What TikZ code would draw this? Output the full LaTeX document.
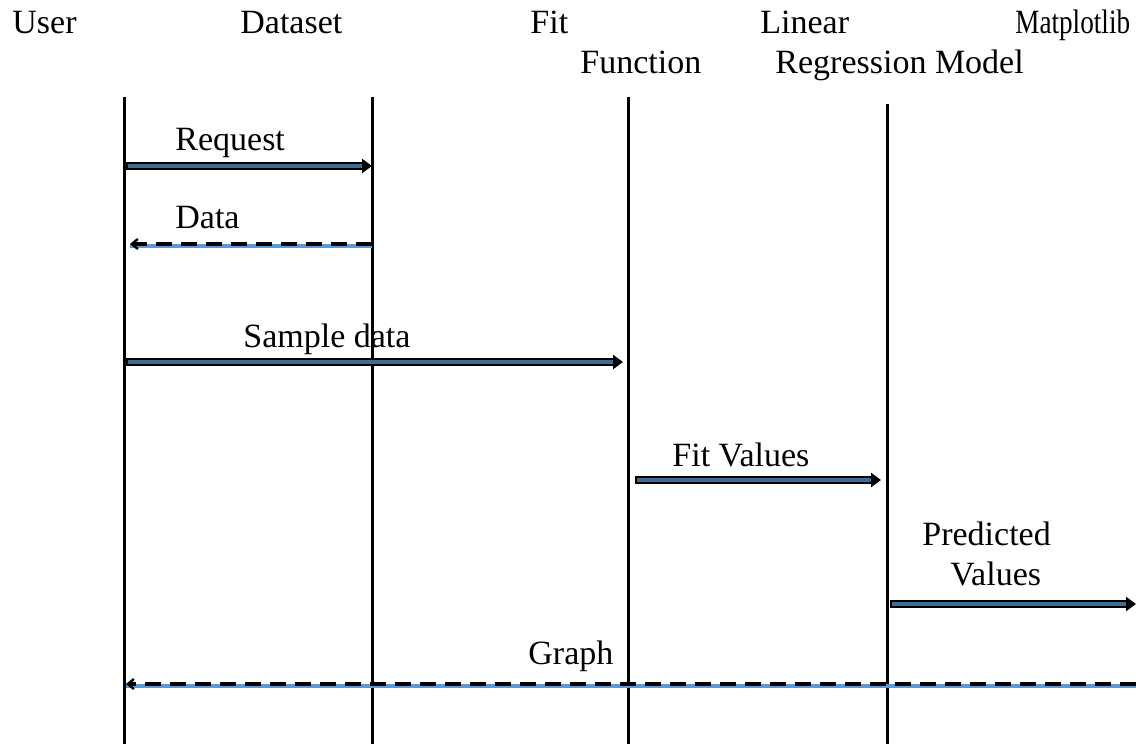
\documentclass[tikz,border=0pt]{standalone}
\usepackage{fontspec}
\setmainfont{Liberation Serif}
\usetikzlibrary{arrows.meta}
\definecolor{msgblue}{HTML}{3E6C97}
\definecolor{retblue}{HTML}{5B9BD5}
\begin{document}
\begin{tikzpicture}[x=0.5pt,y=-0.5pt,
  txt/.style={anchor=base west, inner sep=0pt, font=\fontsize{17}{20}\selectfont},
  lifeline/.style={line width=1.5pt, black},
  callout/.style={line width=3.6pt, black, -{Triangle[length=5pt,width=7pt]}},
  callin/.style={line width=1.7pt, msgblue, shorten >=5pt, shorten <=0.8pt},
  retout/.style={line width=2.1pt, black, dash pattern=on 8pt off 4.5pt,
    -{Straight Barb[length=3pt,width=5pt,line width=1.2pt]}},
  retin/.style={line width=1.7pt, retblue, transform canvas={yshift=-1pt}}
]
\useasboundingbox (0,0) rectangle (1136,744);

% participants
\node[txt] (user) at (12,33) {User};
\node[txt] (dataset) at (240,33) {Dataset};
\node[txt] (fit) at (530,33) {Fit};
\node[txt] (fitfn) at (580,73) {Function};
\node[txt] (linear) at (760,33) {Linear};
\node[txt] (lrm) at (775,73) {Regression Model};
\node[txt, xscale=0.8] (mpl) at (1015,33) {Matplotlib};

% lifelines
\coordinate (uT) at (124,97);  \coordinate (uB) at (124,744);
\coordinate (dT) at (372,97);  \coordinate (dB) at (372,744);
\coordinate (fT) at (628,97);  \coordinate (fB) at (628,744);
\coordinate (lT) at (887,104); \coordinate (lB) at (887,744);
\draw[lifeline] (uT) -- (uB);
\draw[lifeline] (dT) -- (dB);
\draw[lifeline] (fT) -- (fB);
\draw[lifeline] (lT) -- (lB);

% message end points
\coordinate (reqA) at (126,166); \coordinate (reqB) at (372,166);
\coordinate (datA) at (372,244); \coordinate (datB) at (130,244);
\coordinate (smpA) at (126,362); \coordinate (smpB) at (623,362);
\coordinate (fitA) at (635,480); \coordinate (fitB) at (881,480);
\coordinate (preA) at (890,604); \coordinate (preB) at (1136,604);
\coordinate (grA)  at (1136,684); \coordinate (grB) at (126,684);

% messages
\draw[callout] (reqA) -- (reqB);
\draw[callin] (reqA) -- (reqB);
\node[txt] (reqL) at (175,150) {Request};

\draw[retin] (datA) -- (datB);
\draw[retout] (datA) -- (datB);
\node[txt] (datL) at (175,228) {Data};

\draw[callout] (smpA) -- (smpB);
\draw[callin] (smpA) -- (smpB);
\node[txt] (smpL) at (243,347) {Sample data};

\draw[callout] (fitA) -- (fitB);
\draw[callin] (fitA) -- (fitB);
\node[txt] (fitL) at (672,466) {Fit Values};

\draw[callout] (preA) -- (preB);
\draw[callin] (preA) -- (preB);
\node[txt] (preL1) at (922,545) {Predicted};
\node[txt] (preL2) at (950,585) {Values};

\draw[retin] (grA) -- (grB);
\draw[retout] (grA) -- (grB);
\node[txt] (grL) at (528,664) {Graph};
\end{tikzpicture}
\end{document}
